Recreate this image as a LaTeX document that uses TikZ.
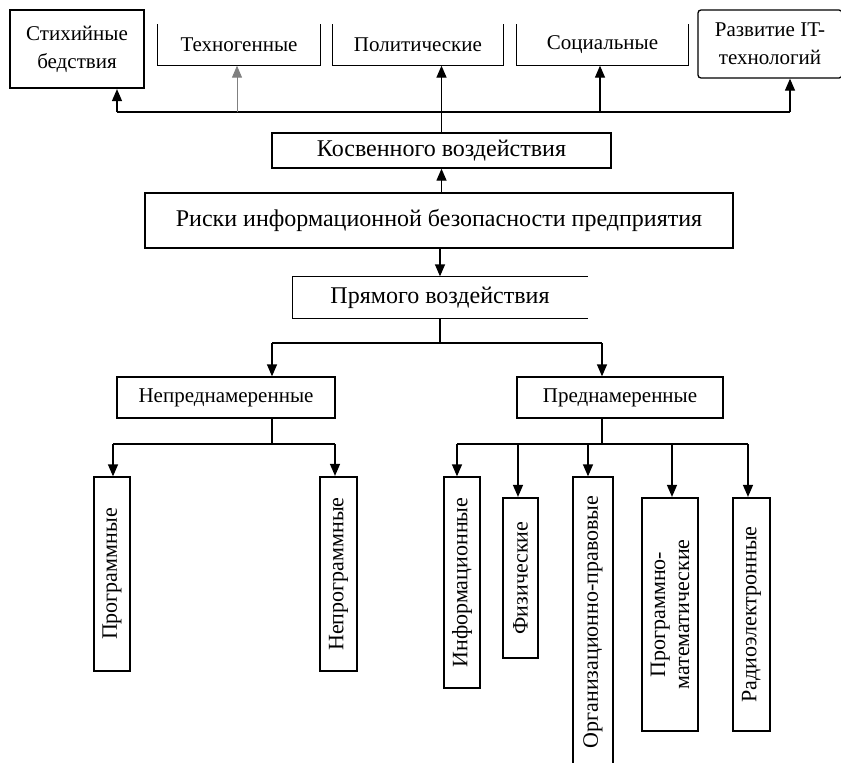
\documentclass[tikz,border=0pt]{standalone}
\usepackage{fontspec}
\setmainfont{Liberation Serif}
\usepackage{tikz}
\usetikzlibrary{arrows.meta}

\begin{document}
\begin{tikzpicture}[x=1pt, y=-1pt, line width=1.3pt,
    box/.style={draw, inner sep=0pt, align=center},
    openbox/.style={inner sep=0pt, align=center},
    thick box/.style={box, line width=2.2pt},
    arr/.style={-{Triangle[length=12pt,width=10pt]}},
    big/.style={font=\fontsize{24}{28}\selectfont},
    mid/.style={font=\fontsize{21}{28}\selectfont},
    vert/.style={rotate=90, font=\fontsize{22}{24}\selectfont}]
    \useasboundingbox (0,0) rectangle (841,763);

    % upper row
    \node[thick box, mid, minimum width=134pt, minimum height=78pt] (nat) at (77,49) {Стихийные\\бедствия};
    \node[openbox, mid, minimum width=162pt, minimum height=40pt] (tech) at (239,45) {Техногенные};
    \node[openbox, mid, minimum width=170pt, minimum height=40pt] (pol) at (418,45) {Политические};
    \node[openbox, mid, minimum width=171pt, minimum height=40pt] (soc) at (602.5,45) {Социальные};
    \node[box, mid, rounded corners=3pt, minimum width=144pt, minimum height=68pt] (it) at (770,44) {Развитие IT-\\технологий};
    \foreach \nn in {tech, pol, soc}
        \draw (\nn.north west) -- (\nn.south west) -- (\nn.south east) -- (\nn.north east);

    % centre
    \node[box, big, minimum width=339pt, minimum height=35pt] (kos) at (441.5,150.5) {Косвенного воздействия};
    \node[box, big, line width=1.8pt, minimum width=588pt, minimum height=55pt] (risk) at (439,220.5) {Риски информационной безопасности предприятия};
    \node[openbox, big, minimum width=294pt, minimum height=41pt] (pr) at (440,297.5) {Прямого воздействия};
    \draw (pr.north east) -- (pr.north west) -- (pr.south west) -- (pr.south east);

    \node[box, mid, minimum width=218pt, minimum height=41pt] (unint) at (226,397.5) {Непреднамеренные};
    \node[box, mid, minimum width=206pt, minimum height=41pt] (int) at (620,397.5) {Преднамеренные};

    % lower row
    \node[box, vert, minimum width=194pt, minimum height=36pt] (prog) at (112,574) {Программные};
    \node[thick box, vert, minimum width=194pt, minimum height=37pt] (nonprog) at (338.5,574) {Непрограммные};
    \node[box, vert, minimum width=211pt, minimum height=36pt] (info) at (462,582.5) {Информационные};
    \node[thick box, vert, minimum width=160pt, minimum height=35pt] (phys) at (520.5,578) {Физические};
    \node[box, vert, minimum width=290pt, minimum height=40pt] (org) at (593,622) {Организационно-правовые};
    \node[thick box, vert, minimum width=233pt, minimum height=56pt] (pm) at (670,614.5) {Программно-\\математические};
    \node[thick box, vert, minimum width=233pt, minimum height=37pt] (radio) at (751.5,614.5) {Радиоэлектронные};

    % upper connectors
    \coordinate (tl) at (117,112);
    \coordinate (tr) at (790,112);
    \coordinate (tt) at (237,112);
    \coordinate (ts) at (600,112);
    \draw (tl) -- (tr);
    \draw[arr] (tl) -- (tl |- nat.south);
    \draw[arr, gray, line width=0.9pt] (tt) -- (tt |- tech.south);
    \draw[arr] (ts) -- (ts |- soc.south);
    \draw[arr] (tr) -- (tr |- it.south);
    \draw[arr] (kos.north) -- (kos.north |- pol.south);
    \draw[arr] (kos.south |- risk.north) -- (kos.south);
    \draw[arr] (risk.south -| pr.south) -- (pr.north);

    % lower connectors
    \coordinate (ml) at (272,343);
    \coordinate (mr) at (602,343);
    \draw (pr.south) -- (pr.south |- ml);
    \draw (ml) -- (mr);
    \draw[arr] (ml) -- (ml |- unint.north);
    \draw[arr] (mr) -- (mr |- int.north);

    \coordinate (ll) at (113,444);
    \coordinate (lr) at (335,444);
    \draw (ml |- unint.south) -- (ml |- ll);
    \draw (ll) -- (lr);
    \draw[arr] (ll) -- (ll |- prog.east);
    \draw[arr] (lr) -- (lr |- nonprog.east);

    \coordinate (rl) at (457,444);
    \coordinate (rr) at (748,444);
    \draw (mr |- int.south) -- (mr |- rl);
    \draw (rl) -- (rr);
    \foreach \xx/\nn in {457/info, 518/phys, 588/org, 672/pm, 748/radio} {
        \coordinate (t\nn) at (\xx,444);
        \draw[arr] (t\nn) -- (t\nn |- \nn.east);
    }
\end{tikzpicture}
\end{document}
